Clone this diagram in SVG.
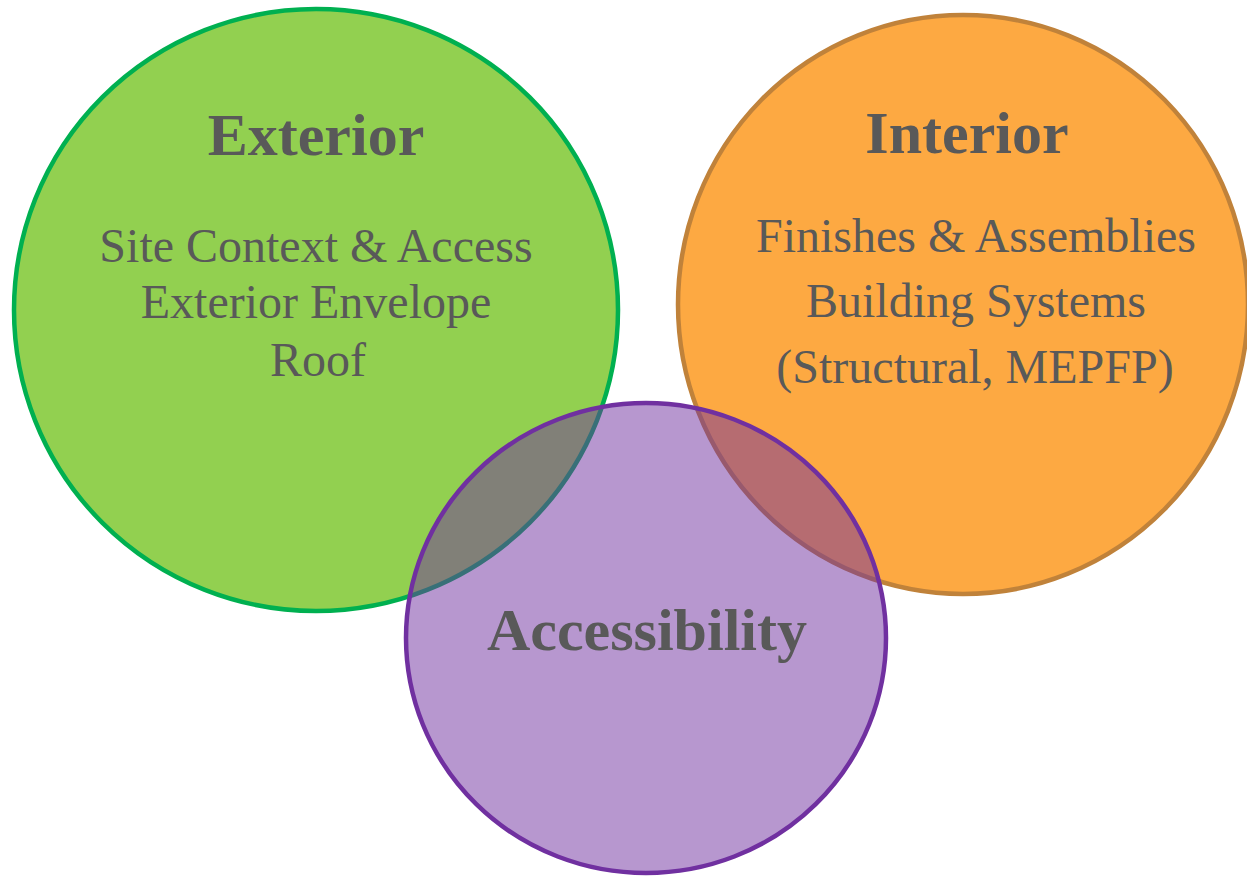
<svg xmlns="http://www.w3.org/2000/svg" width="1247" height="879" viewBox="0 0 1247 879">
<style>
.title{font-family:"Liberation Serif","Times New Roman",serif;font-weight:bold;font-size:60px;fill:#595959;text-anchor:middle}
.body{font-family:"Liberation Serif","Times New Roman",serif;font-size:48px;fill:#595959;text-anchor:middle}
.ring{stroke-width:4.5}
</style>
<rect width="1247" height="879" fill="#ffffff"/>
<g id="exterior">
<ellipse class="ring" cx="316" cy="310" rx="302" ry="301" fill="#92D050" stroke="#00B050"/>
<text class="title" x="316" y="155">Exterior</text>
<text class="body" x="316" y="262">Site Context &amp; Access</text>
<text class="body" x="316" y="318">Exterior Envelope</text>
<text class="body" x="318" y="376">Roof</text>
</g>
<g id="interior">
<ellipse class="ring" cx="963" cy="304.5" rx="285" ry="289.5" fill="#FDA942" stroke="#C0823A"/>
<text class="title" x="967" y="153">Interior</text>
<text class="body" x="976" y="252">Finishes &amp; Assemblies</text>
<text class="body" x="976" y="317">Building Systems</text>
<text class="body" x="975" y="383">(Structural, MEPFP)</text>
</g>
<g id="accessibility">
<ellipse class="ring" cx="646" cy="638" rx="240" ry="235" fill="#7030A0" fill-opacity="0.5" stroke="#7030A0"/>
<text class="title" x="647" y="650">Accessibility</text>
</g>
<g id="connectors"/>
</svg>
